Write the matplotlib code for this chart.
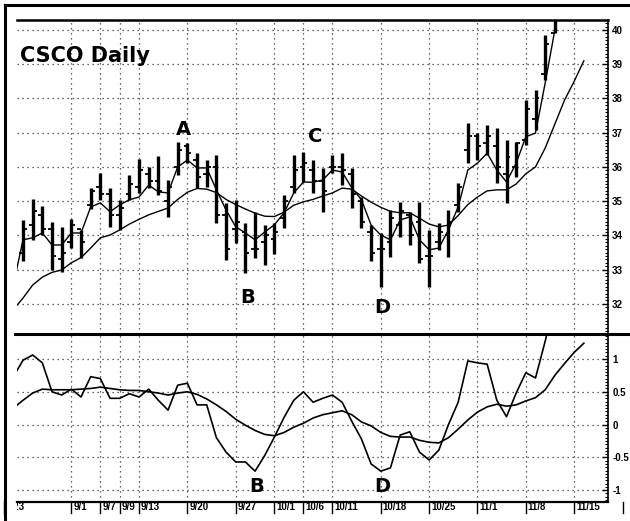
import matplotlib
matplotlib.use('Agg')
import matplotlib.pyplot as plt
import matplotlib.transforms as mtransforms
from matplotlib.lines import Line2D
from matplotlib.ticker import MultipleLocator
import numpy as np
import pandas as pd

# ---------------- data ----------------
# trading calendar (1999), Labor Day removed
days = pd.bdate_range('1999-08-23', '1999-11-30')
days = days[days != pd.Timestamp('1999-09-06')]
day_labels = [f"{d.month}/{d.day}" for d in days]

bar_first_day = '8/25'
line_first_day = '8/24'

bar_high = [34.45, 35.07, 34.86, 34.40, 34.25, 34.48, 34.16, 35.39, 35.82, 35.39,
            35.04, 35.77, 36.23, 36.00, 36.32, 35.62, 36.73, 36.70, 36.41, 36.20,
            36.35, 34.95, 35.04, 34.37, 34.69, 34.31, 34.37, 35.18, 36.35, 36.44,
            36.20, 35.96, 36.35, 36.40, 35.96, 35.13, 34.31, 34.07, 34.74, 34.98,
            34.69, 34.98, 34.16, 34.36, 34.74, 35.53, 37.28, 36.99, 37.23, 37.13,
            36.79, 36.73, 37.96, 38.25, 39.85, 40.40]
bar_low = [33.25, 33.87, 34.00, 33.00, 32.93, 33.63, 33.34, 34.77, 35.04, 34.25,
           34.16, 35.04, 35.24, 35.39, 35.18, 34.54, 35.77, 36.12, 35.39, 35.42,
           34.37, 33.28, 33.78, 32.90, 33.34, 33.14, 33.46, 34.22, 35.24, 35.56,
           35.24, 34.69, 35.82, 35.47, 34.79, 34.22, 33.24, 32.50, 33.38, 33.96,
           33.72, 33.19, 32.50, 33.58, 33.38, 34.69, 36.11, 36.20, 36.35, 35.53,
           34.94, 35.71, 36.64, 37.08, 38.54, 39.90]
bar_open = [33.5, 34.3, 34.6, 34.2, 33.3, 33.8, 34.2, 34.9, 35.4, 35.2,
            34.6, 35.2, 35.4, 35.8, 35.6, 35.0, 36.0, 36.6, 36.2, 35.8,
            36.0, 34.6, 34.2, 34.1, 33.6, 33.8, 33.9, 34.5, 35.4, 36.0,
            35.9, 35.6, 36.0, 36.0, 35.8, 35.0, 34.1, 33.6, 33.8, 34.3,
            34.6, 34.4, 33.4, 33.8, 34.0, 34.9, 36.5, 36.9, 36.7, 36.6,
            35.8, 36.0, 36.8, 37.4, 38.7, 39.9]
bar_close = [34.2, 34.7, 34.2, 33.4, 33.5, 34.3, 33.8, 35.3, 35.2, 34.6,
             34.8, 35.5, 35.9, 35.6, 35.3, 35.4, 36.5, 36.4, 35.7, 36.0,
             34.6, 33.6, 34.4, 33.5, 33.6, 34.0, 34.1, 35.0, 35.9, 36.1,
             35.6, 35.3, 36.0, 35.9, 35.2, 34.4, 33.5, 33.6, 34.5, 34.7,
             34.0, 33.3, 33.4, 34.1, 34.4, 35.4, 36.9, 36.6, 36.9, 36.0,
             36.3, 36.7, 37.7, 38.0, 39.6, 40.3]

ma_fast = [32.55, 33.87, 33.93, 34.07, 33.72, 33.72, 34.07, 34.07, 34.83, 34.95,
           34.69, 34.89, 35.04, 35.12, 35.47, 35.27, 35.24, 36.00, 36.20, 35.97,
           35.97, 35.33, 34.74, 34.25, 34.07, 33.87, 34.10, 34.31, 34.66, 35.24,
           35.56, 35.55, 35.62, 35.91, 35.85, 35.39, 35.04, 34.30, 34.01, 33.87,
           34.45, 34.54, 33.87, 33.58, 33.63, 34.16, 34.83, 35.91, 36.11, 36.40,
           35.91, 35.56, 36.11, 36.88, 36.99, 38.45, 40.00]
ma_slow = [31.83, 32.17, 32.55, 32.78, 32.92, 32.99, 33.20, 33.35, 33.63, 33.93,
           34.01, 34.16, 34.33, 34.47, 34.60, 34.70, 34.80, 35.05, 35.26, 35.37,
           35.35, 35.25, 35.05, 34.90, 34.77, 34.65, 34.56, 34.55, 34.68, 34.88,
           34.98, 35.05, 35.15, 35.24, 35.38, 35.35, 35.15, 34.97, 34.82, 34.70,
           34.66, 34.66, 34.50, 34.33, 34.25, 34.30, 34.58, 34.90, 35.12, 35.30,
           35.33, 35.33, 35.50, 35.80, 36.00, 36.55, 37.25, 37.95, 38.50, 39.10]

osc_fast = [0.73, 0.98, 1.06, 0.94, 0.50, 0.45, 0.54, 0.42, 0.73, 0.70,
            0.40, 0.40, 0.47, 0.42, 0.54, 0.37, 0.22, 0.60, 0.63, 0.30,
            0.30, -0.20, -0.42, -0.57, -0.57, -0.71, -0.47, -0.19, 0.11, 0.37,
            0.50, 0.34, 0.40, 0.45, 0.34, 0.05, -0.22, -0.60, -0.71, -0.66,
            -0.16, -0.11, -0.42, -0.54, -0.39, 0.00, 0.34, 0.97, 0.94, 0.92,
            0.37, 0.12, 0.48, 0.79, 0.71, 1.27, 1.90]
osc_slow = [0.25, 0.37, 0.48, 0.54, 0.53, 0.53, 0.53, 0.54, 0.55, 0.57,
            0.55, 0.53, 0.52, 0.52, 0.50, 0.48, 0.45, 0.48, 0.50, 0.46,
            0.39, 0.30, 0.20, 0.08, -0.01, -0.09, -0.15, -0.17, -0.12, -0.04,
            0.02, 0.10, 0.15, 0.18, 0.21, 0.15, 0.04, -0.02, -0.12, -0.18,
            -0.19, -0.19, -0.24, -0.27, -0.28, -0.20, -0.07, 0.07, 0.19, 0.27,
            0.31, 0.28, 0.30, 0.36, 0.41, 0.53, 0.75, 0.93, 1.10, 1.24]

tick_days = ['8/23', '9/1', '9/7', '9/9', '9/13', '9/20', '9/27', '10/1', '10/6',
             '10/11', '10/18', '10/25', '11/1', '11/8', '11/15', '11/22']
labelled_days = ['8/23', '9/1', '9/7', '9/9', '9/13', '9/20', '9/27', '10/1', '10/6',
                 '10/11', '10/18', '10/25', '11/1', '11/8', '11/15']
price_ticks = [32, 33, 34, 35, 36, 37, 38, 39, 40]
osc_ticks = [-1, -0.5, 0, 0.5, 1]
osc_tick_labels = ['-1', '-0.5', '0', '0.5', '1']
title = 'CSCO Daily'
pts = ['A', 'B', 'C', 'D']

# ---------------- layout ----------------
W, H = 630, 521
fig = plt.figure(figsize=(W / 100, H / 100), dpi=100)
fig.patch.set_facecolor('white')
plt.rcParams['font.family'] = ['DejaVu Sans']


def px_axes(l, t, r, b):
    return fig.add_axes([l / W, 1 - b / H, (r - l) / W, (b - t) / H])


ax1 = px_axes(17, 20, 608, 334)
ax2 = px_axes(17, 334, 608, 502)

pos = {lab: i for i, lab in enumerate(day_labels)}
bx = pos[bar_first_day] + np.arange(len(bar_high))
lx_fast = pos[line_first_day] + np.arange(len(ma_fast))
lx_slow = pos[line_first_day] + np.arange(len(ma_slow))
ox_fast = pos[line_first_day] + np.arange(len(osc_fast))
ox_slow = pos[line_first_day] + np.arange(len(osc_slow))

px_per_day = 9.67
x0 = pos[bar_first_day]
xlim = (x0 - 6 / px_per_day, x0 + 585 / px_per_day)

grid_kw = dict(color='#333333', lw=0.9, ls=(0, (1, 3)))

for ax in (ax1, ax2):
    ax.set_xlim(*xlim)
    ax.set_xticks([pos[d] for d in tick_days if xlim[0] <= pos[d] <= xlim[1]])
    ax.tick_params(axis='x', length=0, labelbottom=False)
    ax.xaxis.grid(True, **grid_kw)
    ax.yaxis.grid(True, **grid_kw)
    ax.set_axisbelow(True)
    ax.spines['left'].set_visible(False)
    ax.spines['right'].set_linewidth(1.2)
    ax.yaxis.tick_right()
    ax.tick_params(axis='y', which='major', direction='in', length=4, width=1,
                   labelsize=7, pad=3)
    ax.tick_params(axis='y', which='minor', direction='in', length=2.5, width=0.8)

# upper panel
ax1.set_ylim(31.12, 40.29)
ax1.set_yticks(price_ticks)
ax1.set_yticklabels([str(t) for t in price_ticks], fontweight='bold',
                    fontfamily='Liberation Sans')
ax1.yaxis.set_minor_locator(MultipleLocator(0.1))
ax1.spines['top'].set_linewidth(1.8)
ax1.spines['bottom'].set_visible(False)

ax1.vlines(bx, bar_low, bar_high, color='black', lw=2.4)
ax1.hlines(bar_open, bx - 0.4, bx, color='black', lw=1.3)
ax1.hlines(bar_close, bx, bx + 0.4, color='black', lw=1.3)
ax1.plot(lx_fast, ma_fast, color='black', lw=1.0)
ax1.plot(lx_slow, ma_slow, color='black', lw=1.0)

# lower panel
ax2.set_ylim(-1.18, 1.38)
ax2.set_yticks(osc_ticks)
ax2.set_yticklabels(osc_tick_labels, fontweight='bold', fontfamily='Liberation Sans')
ax2.yaxis.set_minor_locator(MultipleLocator(0.05))
ax2.spines['top'].set_visible(False)
ax2.spines['bottom'].set_linewidth(1.6)
ax2.plot(ox_fast, osc_fast, color='black', lw=1.2)
ax2.plot(ox_slow, osc_slow, color='black', lw=1.2)

# date ticks & labels below the lower panel (drawn manually)
trans_tick = mtransforms.blended_transform_factory(ax2.transData, fig.transFigure)
clip = mtransforms.Bbox.from_extents(17, 0, W, H)
for d in tick_days:
    xd = pos[d]
    fig.add_artist(Line2D([xd, xd], [1 - 502 / H, 1 - 513 / H], transform=trans_tick,
                          color='black', lw=1.0))
    if d in labelled_days:
        t = fig.text(xd, 1 - 507 / H, d, transform=mtransforms.offset_copy(
            trans_tick, fig=fig, x=2, y=0, units='dots'),
            ha='left', va='center', fontsize=7, fontweight='bold',
            fontfamily='Liberation Sans')
        t.set_clip_on(True)
        t.set_clip_box(clip)

# frame decorations
fig.add_artist(Line2D([5 / W, 1], [1 - 5 / H, 1 - 5 / H], color='black', lw=2.2))
fig.add_artist(Line2D([5 / W, 5 / W], [1 - 5 / H, 0], color='black', lw=2.2))
fig.add_artist(Line2D([15 / W, 1], [1 - 334 / H, 1 - 334 / H], color='black', lw=2.2))

# texts
fig.text(20 / W, 1 - 56 / H, title, fontsize=15, fontweight='bold', ha='left',
         va='center')
ax1.text(pos['9/20'] - 0.4, 37.08, pts[0], fontsize=14, fontweight='bold',
         ha='center', va='center')
ax1.text(pos['9/27'] + 1.2, 32.2, pts[1], fontsize=14, fontweight='bold',
         ha='center', va='center')
ax1.text(pos['10/6'] + 1.2, 36.9, pts[2], fontsize=14, fontweight='bold',
         ha='center', va='center')
ax1.text(pos['10/18'] + 0.2, 31.9, pts[3], fontsize=14, fontweight='bold',
         ha='center', va='center')
ax2.text(pos['9/27'] + 2.2, -0.95, pts[1], fontsize=14, fontweight='bold',
         ha='center', va='center')
ax2.text(pos['10/18'] + 0.2, -0.95, pts[3], fontsize=14, fontweight='bold',
         ha='center', va='center')

fig.savefig('out.png', dpi=100, facecolor='white')
